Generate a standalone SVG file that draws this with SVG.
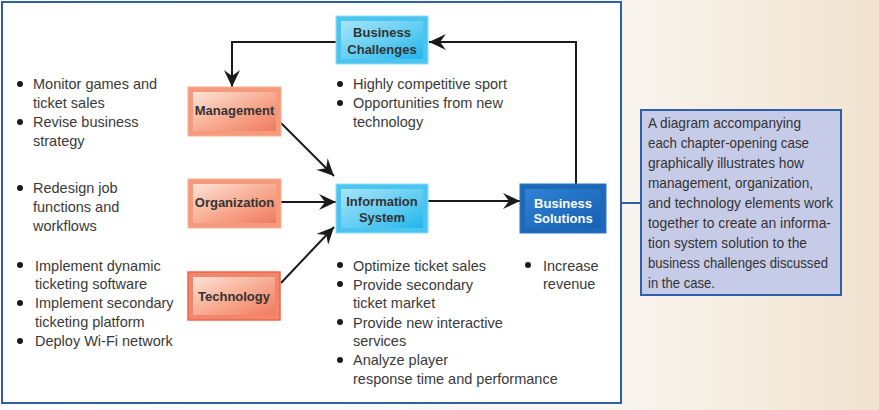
<svg xmlns="http://www.w3.org/2000/svg" width="879" height="410" viewBox="0 0 879 410">
<defs>
<linearGradient id="bg" x1="0" y1="0" x2="1" y2="0">
<stop offset="0" stop-color="#ffffff"/><stop offset="0.7" stop-color="#f9f5ef"/><stop offset="1" stop-color="#f1e3d0"/>
</linearGradient>
<linearGradient id="salmon" x1="0" y1="0" x2="1" y2="1">
<stop offset="0" stop-color="#fde3d6"/><stop offset="0.55" stop-color="#f7a88e"/><stop offset="1" stop-color="#f07a5e"/>
</linearGradient>
<linearGradient id="cyan" x1="0" y1="0" x2="1" y2="1">
<stop offset="0" stop-color="#a6e4f8"/><stop offset="0.6" stop-color="#5bcbf2"/><stop offset="1" stop-color="#20b4ec"/>
</linearGradient>
<linearGradient id="blue" x1="0" y1="0" x2="1" y2="1">
<stop offset="0" stop-color="#2f82d2"/><stop offset="1" stop-color="#1560b2"/>
</linearGradient>
<marker id="ah" markerUnits="userSpaceOnUse" markerWidth="18" markerHeight="16" refX="17" refY="8" orient="auto">
<path d="M0,0 L17,8 L0,16 L6,8 z" fill="#1a1a1a"/>
</marker>
<style>
.t{font-family:"Liberation Sans",Arial,sans-serif;font-size:14.5px;fill:#3a3a3a}
.b{font-family:"Liberation Sans",Arial,sans-serif;font-size:13px;font-weight:bold;fill:#333;text-anchor:middle}
.w{fill:#ffffff}
.c{font-family:"Liberation Sans Narrow","Liberation Sans",Arial,sans-serif;font-size:15px;fill:#333}
.bul{fill:#1a1a1a}
.con{fill:none;stroke:#1a1a1a;stroke-width:2;marker-end:url(#ah)}
</style>
</defs>
<rect x="0" y="0" width="879" height="410" fill="url(#bg)"/>
<rect id="frame" x="2" y="2" width="619" height="401" fill="#ffffff" stroke="#2f5fa8" stroke-width="2"/>

<g id="connectors">
<path class="con" d="M576,184 V42 H429"/>
<path class="con" d="M336,42 H232 V87"/>
<path class="con" d="M281,123 L334,176"/>
<path class="con" d="M281,202 H336"/>
<path class="con" d="M281,283 L334,227"/>
<path class="con" d="M428,201 H520"/>
<line x1="621" y1="203" x2="641" y2="203" stroke="#2f5fa8" stroke-width="2"/>
</g>

<g id="business-challenges">
<rect x="336" y="16" width="92" height="48" fill="#4cc4f0" stroke="#8ddcf7" stroke-width="1"/>
<rect x="341" y="21" width="82" height="38" fill="url(#cyan)"/>
<text class="b" x="382" y="37">Business</text>
<text class="b" x="382" y="54">Challenges</text>
</g>

<g id="management">
<rect x="188" y="87" width="93" height="49" fill="#f59a7c" stroke="#f6b092" stroke-width="1"/>
<rect x="193" y="92" width="83" height="39" fill="url(#salmon)"/>
<text class="b" x="234.5" y="115">Management</text>
</g>

<g id="organization">
<rect x="188" y="179" width="93" height="49" fill="#f59a7c" stroke="#f6b092" stroke-width="1"/>
<rect x="193" y="184" width="83" height="39" fill="url(#salmon)"/>
<text class="b" x="234.5" y="206.5">Organization</text>
</g>

<g id="technology">
<rect x="188" y="272" width="92" height="48" fill="#f2866a" stroke="#ec6450" stroke-width="1.5"/>
<rect x="193" y="277" width="82" height="38" fill="url(#salmon)"/>
<text class="b" x="234" y="301">Technology</text>
</g>

<g id="information-system">
<rect x="336" y="184" width="92" height="49" fill="#4cc4f0" stroke="#8ddcf7" stroke-width="1"/>
<rect x="341" y="189" width="82" height="39" fill="url(#cyan)"/>
<text class="b" x="382" y="206">Information</text>
<text class="b" x="382" y="222">System</text>
</g>

<g id="business-solutions">
<rect x="520" y="184" width="86" height="49" fill="#1f68b8" stroke="#2a78c8" stroke-width="1"/>
<rect x="525" y="189" width="76" height="39" fill="url(#blue)"/>
<text class="b w" x="563" y="207.5">Business</text>
<text class="b w" x="563" y="223">Solutions</text>
</g>

<g id="management-notes">
<circle class="bul" cx="20" cy="84" r="3"/>
<text class="t" x="33" y="89">Monitor games and</text>
<text class="t" x="33" y="108">ticket sales</text>
<circle class="bul" cx="20" cy="122" r="3"/>
<text class="t" x="33" y="127">Revise business</text>
<text class="t" x="33" y="146">strategy</text>
</g>

<g id="organization-notes">
<circle class="bul" cx="20" cy="188" r="3"/>
<text class="t" x="33" y="193">Redesign job</text>
<text class="t" x="33" y="212">functions and</text>
<text class="t" x="33" y="231">workflows</text>
</g>

<g id="technology-notes">
<circle class="bul" cx="20" cy="265" r="3"/>
<text class="t" x="35" y="271">Implement dynamic</text>
<text class="t" x="35" y="289">ticketing software</text>
<circle class="bul" cx="20" cy="303" r="3"/>
<text class="t" x="35" y="308">Implement secondary</text>
<text class="t" x="35" y="327">ticketing platform</text>
<circle class="bul" cx="20" cy="341" r="3"/>
<text class="t" x="35" y="346">Deploy Wi-Fi network</text>
</g>

<g id="challenges-notes">
<circle class="bul" cx="340" cy="84" r="3"/>
<text class="t" x="353" y="89">Highly competitive sport</text>
<circle class="bul" cx="340" cy="103" r="3"/>
<text class="t" x="353" y="108">Opportunities from new</text>
<text class="t" x="353" y="127">technology</text>
</g>

<g id="system-notes">
<circle class="bul" cx="340" cy="265" r="3"/>
<text class="t" x="353" y="271">Optimize ticket sales</text>
<circle class="bul" cx="340" cy="284" r="3"/>
<text class="t" x="353" y="290">Provide secondary</text>
<text class="t" x="353" y="308">ticket market</text>
<circle class="bul" cx="340" cy="322" r="3"/>
<text class="t" x="353" y="328">Provide new interactive</text>
<text class="t" x="353" y="346">services</text>
<circle class="bul" cx="340" cy="360" r="3"/>
<text class="t" x="353" y="365">Analyze player</text>
<text class="t" x="353" y="384">response time and performance</text>
</g>

<g id="solutions-notes">
<circle class="bul" cx="528" cy="265" r="3"/>
<text class="t" x="543" y="271">Increase</text>
<text class="t" x="543" y="289">revenue</text>
</g>

<g id="callout">
<rect x="641" y="110" width="200" height="185" fill="#c6cbe8" stroke="#2f5fa8" stroke-width="2"/>
<text class="c" x="648" y="128" textLength="153" lengthAdjust="spacingAndGlyphs">A diagram accompanying</text>
<text class="c" x="648" y="148" textLength="161" lengthAdjust="spacingAndGlyphs">each chapter-opening case</text>
<text class="c" x="648" y="168" textLength="156" lengthAdjust="spacingAndGlyphs">graphically illustrates how</text>
<text class="c" x="648" y="188" textLength="165" lengthAdjust="spacingAndGlyphs">management, organization,</text>
<text class="c" x="648" y="208" textLength="185" lengthAdjust="spacingAndGlyphs">and technology elements work</text>
<text class="c" x="648" y="228" textLength="183" lengthAdjust="spacingAndGlyphs">together to create an informa-</text>
<text class="c" x="648" y="248" textLength="159" lengthAdjust="spacingAndGlyphs">tion system solution to the</text>
<text class="c" x="648" y="268" textLength="180" lengthAdjust="spacingAndGlyphs">business challenges discussed</text>
<text class="c" x="648" y="288" textLength="67" lengthAdjust="spacingAndGlyphs">in the case.</text>
</g>
</svg>
